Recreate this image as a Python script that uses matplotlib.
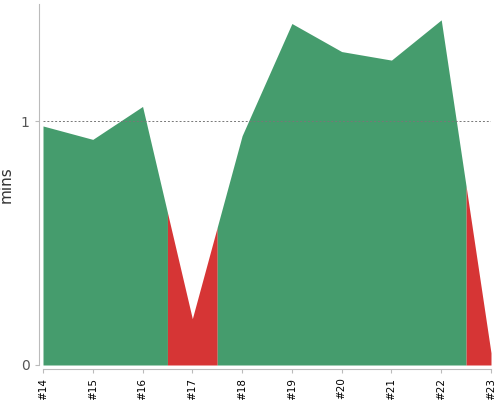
import matplotlib
matplotlib.use("Agg")
import matplotlib.pyplot as plt

# builds and their durations (mins)
builds = ["#14", "#15", "#16", "#17", "#18", "#19", "#20", "#21", "#22", "#23"]
mins = [0.98, 0.925, 1.06, 0.19, 0.94, 1.40, 1.285, 1.25, 1.415, 0.05]
threshold = 0.5
target = 1.0

green = "#459c6d"
red = "#d63535"

fig = plt.figure(figsize=(5, 4), dpi=100)
ax = fig.add_axes([0.086, 0.0875, 0.896, 0.9025])

n = len(builds)
x = list(range(n))
cols = [red if v < threshold else green for v in mins]

# each build owns the area halfway to its neighbours; merge runs of one colour
start = 0
while start < n:
    end = start
    while end + 1 < n and cols[end + 1] == cols[start]:
        end += 1
    xs, ys = [], []
    if start > 0:
        xs.append(start - 0.5)
        ys.append((mins[start - 1] + mins[start]) / 2)
    for i in range(start, end + 1):
        xs.append(i)
        ys.append(mins[i])
    if end < n - 1:
        xs.append(end + 0.5)
        ys.append((mins[end] + mins[end + 1]) / 2)
    ax.fill_between(xs, 0, ys, color=cols[start], linewidth=0)
    start = end + 1

ax.axhline(target, color="#777777", linestyle=(0, (2, 2)), linewidth=0.7)

ax.set_xlim(0, n - 1)
ax.set_ylim(0, 1.48)
ax.set_xticks(x)
ax.set_xticklabels(builds)
ax.set_yticks([0, 1])
ax.set_yticklabels(["0", "1"], fontsize=9)
ax.set_ylabel("mins", fontsize=11, color="#333333", labelpad=5)

for s in ["top", "right"]:
    ax.spines[s].set_visible(False)
for s in ["left", "bottom"]:
    ax.spines[s].set_color("#bbbbbb")
    ax.spines[s].set_position(("outward", 3))
ax.tick_params(axis="x", colors="#bbbbbb", labelcolor="black", length=3, pad=3)
ax.tick_params(axis="y", colors="#bbbbbb", labelcolor="#555555", length=3)
plt.setp(ax.get_xticklabels(), rotation=90, rotation_mode="default",
         ha="center", va="top", fontsize=7.5)

fig.savefig("out.png", dpi=100)
